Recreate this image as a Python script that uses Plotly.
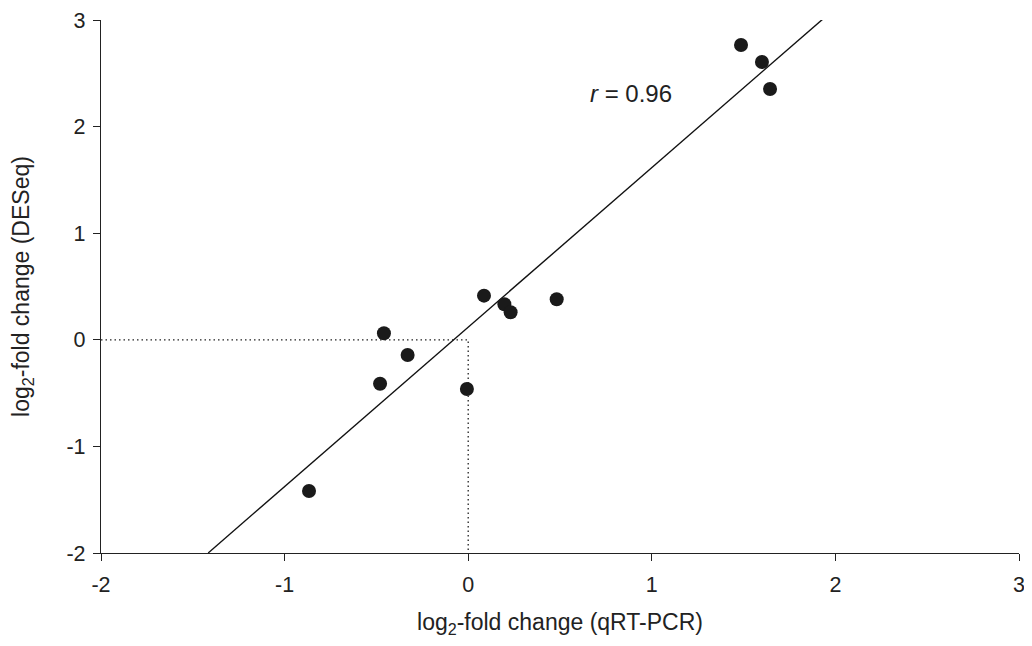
import plotly.graph_objects as go

# Data
qrt_pcr = [1.486, 1.600, 1.644, 0.086, 0.197, 0.231, 0.482, -0.459, -0.330, -0.480, -0.007, -0.867]
deseq = [2.765, 2.606, 2.353, 0.414, 0.333, 0.258, 0.380, 0.061, -0.143, -0.412, -0.462, -1.418]

fit_slope = 1.496
fit_intercept = 0.119
fit_x = [-1.416, 1.94]
fit_y = [fit_slope * x + fit_intercept for x in fit_x]

x_ticks = [-2, -1, 0, 1, 2, 3]
y_ticks = [-2, -1, 0, 1, 2, 3]
r_text = "<i>r</i> = 0.96"

FONT = "Arial, Liberation Sans, sans-serif"
INK = "#222222"

fig = go.Figure()

# dotted reference lines at 0
fig.add_trace(go.Scatter(x=[-2, 0, 0], y=[0, 0, -2], mode="lines",
                         line=dict(color="#222222", width=1.3, dash="1.5px,3px"),
                         hoverinfo="skip", showlegend=False))

fig.add_trace(go.Scatter(x=fit_x, y=fit_y, mode="lines",
                         line=dict(color="#111111", width=1.4),
                         showlegend=False, cliponaxis=False))

fig.add_trace(go.Scatter(x=qrt_pcr, y=deseq, mode="markers",
                         marker=dict(color="#1a1a1a", size=14),
                         showlegend=False))

fig.add_annotation(x=0.887, y=2.315, text=r_text, showarrow=False,
                   font=dict(size=24, color=INK, family=FONT))

axis_common = dict(showgrid=False, zeroline=False, showline=True, linecolor=INK,
                   linewidth=1.3, ticks="outside", ticklen=7, tickwidth=1.3,
                   tickcolor=INK, automargin=False,
                   tickfont=dict(size=21.5, color=INK, family=FONT))

# page body has an 8px default margin, so the figure is sized/offset to compensate
fig.update_layout(
    width=1024, height=630,
    margin=dict(l=93, r=13, t=12, b=85),
    paper_bgcolor="white", plot_bgcolor="white",
    xaxis=dict(range=[-2, 3], tickvals=x_ticks, ticktext=[str(v) for v in x_ticks],
               ticklabelstandoff=5,
               title=dict(text="log<sub>2</sub>-fold change (qRT-PCR)", standoff=28,
                          font=dict(size=23, color=INK, family=FONT)),
               **axis_common),
    yaxis=dict(range=[-2, 3], tickvals=y_ticks, ticktext=[str(v) for v in y_ticks],
               ticklabelstandoff=3,
               title=dict(text="log<sub>2</sub>-fold change (DESeq)", standoff=30,
                          font=dict(size=23, color=INK, family=FONT)),
               **axis_common),
)

fig.write_html("out.html")
